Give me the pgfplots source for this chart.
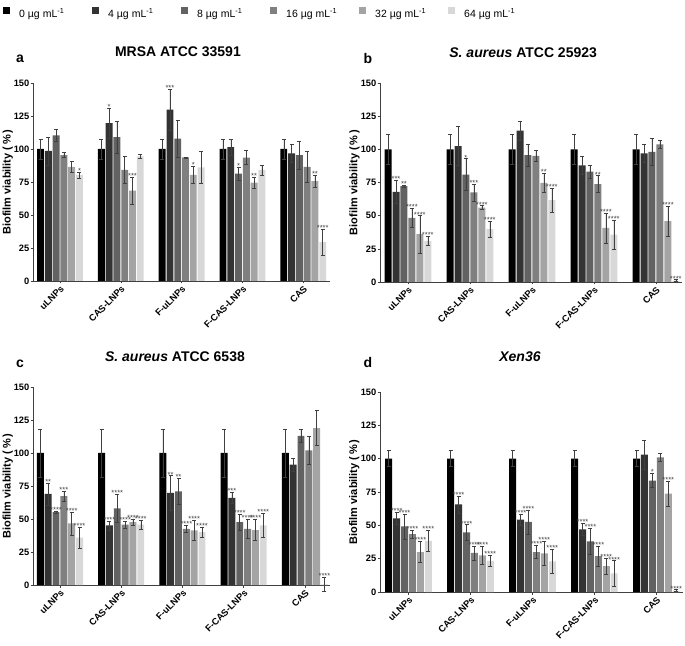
\documentclass[border=0pt]{standalone}
\usepackage{fontspec}
\setmainfont{Liberation Sans}
\usepackage{pgfplots}
\pgfplotsset{compat=1.18}
\usepackage{pgfplotstable}

\definecolor{c0}{HTML}{000000}
\definecolor{c4}{HTML}{333333}
\definecolor{c8}{HTML}{626262}
\definecolor{c16}{HTML}{808080}
\definecolor{c32}{HTML}{A4A4A4}
\definecolor{c64}{HTML}{D8D8D8}
\definecolor{axc}{HTML}{404040}

% ---------- data: value and error for 0,4,8,16,32,64 ug/mL ----------
\pgfplotstableread{
g v0 e0 v4 e4 v8 e8 v16 e16 v32 e32 v64 e64
0 100 7.4 98.5 10.5 110.4 4.6 95.4 2 86.5 4.3 80.4 2.3
1 100 7.4 119.6 11.4 108.9 12 84.2 10.5 68.4 10.4 94.4 1.5
2 100 7.4 129.8 15.8 107.9 14 93.6 0.5 80.4 6.6 86 12
3 100 7.4 101.5 6 81.4 5 93.4 5.3 74.6 4.3 84 4
4 100 7.4 96.7 7 95.4 10.5 86.5 11.5 75.6 4.6 29.5 10
}\dataA
\pgfplotstableread{
g v0 e0 v4 e4 v8 e8 v16 e16 v32 e32 v64 e64
0 100 11 68 9 72.3 0.8 48.4 7.5 36 14 31 3.5
1 100 11 102.5 14.6 80.9 12 67.5 6.3 56 1.5 39.8 6
2 100 11 114.1 7.3 95.7 8.3 95 4 74.8 7 61.7 9.3
3 100 11 87.9 7 83.1 5 73.8 6.3 40.8 11.3 35.8 10.8
4 100 11 97 6.8 98 10 103.8 3.3 45.8 11.3 1 0.8
}\dataB
\pgfplotstableread{
g v0 e0 v4 e4 v8 e8 v16 e16 v32 e32 v64 e64
0 100 18 69 8.3 55.2 1 67.3 3.8 46.6 8.8 35.8 8.3
1 100 18 45.1 3.3 58 10.5 45.8 2.5 47.6 2.3 45.8 3.3
2 100 18 69.8 13 71 10 42.6 2.5 41.3 7.5 40 4
3 100 18 66 4.3 47.6 5.8 42.6 7.5 41.6 8 45.1 9.2
4 100 18 91.2 5 113 5 102 10.6 118.9 13.4 0.5 5.5
}\dataC
\pgfplotstableread{
g v0 e0 v4 e4 v8 e8 v16 e16 v32 e32 v64 e64
0 100 6 55.3 4.5 49.2 9.3 43.4 3 30 8 38.4 8
1 100 6 65.7 6.3 44.7 5.8 29.3 5.3 27.5 7 23.3 4
2 100 6 54.3 4.3 52.5 9 30 5 29 9 23 9
3 100 6 47 4.5 38 10 27 7.5 19.5 6 14 9.5
4 100 6 103 10.6 83.6 5.3 101 3 73.7 9.3 1 0.8
}\dataD

% ---------- significance marks: group, series index, value, error, label ----------
\pgfplotstableread{
g k v e s
0 5 80.4 2.3 *
1 1 119.6 11.4 *
1 4 68.4 10.4 ***
2 1 129.8 15.8 ***
2 4 80.4 6.6 *
3 2 81.4 5 *
3 4 74.6 4.3 **
4 4 75.6 4.6 **
4 5 29.5 10 ****
}\starA
\pgfplotstableread{
g k v e s
0 1 68 9 ***
0 2 72.3 0.8 **
0 3 48.4 7.5 ****
0 4 36 14 ****
0 5 31 3.5 ****
1 2 80.9 12 *
1 3 67.5 6.3 ***
1 4 56 1.5 ****
1 5 39.8 6 ****
2 4 74.8 7 **
2 5 61.7 9.3 ****
3 3 73.8 6.3 **
3 4 40.8 11.3 ****
3 5 35.8 10.8 ****
4 4 45.8 11.3 ****
4 5 1 0.8 ****
}\starB
\pgfplotstableread{
g k v e s
0 1 69 8.3 **
0 2 55.2 1 ****
0 3 67.3 3.8 ***
0 4 46.6 8.8 ****
0 5 35.8 8.3 ****
1 1 45.1 3.3 ****
1 2 58 10.5 ****
1 3 45.8 2.5 ****
1 4 47.6 2.3 ****
1 5 45.8 3.3 ****
2 1 69.8 13 **
2 2 71 10 **
2 3 42.6 2.5 ****
2 4 41.3 7.5 ****
2 5 40 4 ****
3 1 66 4.3 ***
3 2 47.6 5.8 ****
3 3 42.6 7.5 ****
3 4 41.6 8 ****
3 5 45.1 9.2 ****
4 5 0.5 5.5 ****
}\starC
\pgfplotstableread{
g k v e s
0 1 55.3 4.5 ****
0 2 49.2 9.3 ****
0 3 43.4 3 ****
0 4 30 8 ****
0 5 38.4 8 ****
1 1 65.7 6.3 ****
1 2 44.7 5.8 ****
1 3 29.3 5.3 ****
1 4 27.5 7 ****
1 5 23.3 4 ****
2 1 54.3 4.3 ****
2 2 52.5 9 ****
2 3 30 5 ****
2 4 29 9 ****
2 5 23 9 ****
3 1 47 4.5 ****
3 2 38 10 ****
3 3 27 7.5 ****
3 4 19.5 6 ****
3 5 14 9.5 ****
4 2 83.6 5.3 *
4 4 73.7 9.3 ****
4 5 1 0.8 ****
}\starD

\pgfplotsset{
  bs/.style={ybar, bar width=0.113, bar shift=0pt, draw=none,
    legend image code/.code={\fill[##1] (0pt,0pt) rectangle (7pt,7pt);},
    error bars/y dir=both, error bars/y explicit,
    error bars/error bar style={axc, line width=0.5pt},
    error bars/error mark options={axc, line width=0.5pt, mark size=2pt, rotate=90}},
  s0/.style={bs, fill=c0},
  s1/.style={bs, fill=c4},
  s2/.style={bs, fill=c8},
  s3/.style={bs, fill=c16},
  s4/.style={bs, fill=c32},
  s5/.style={bs, fill=c64},
  sig/.style={ybar, bar width=0.113, bar shift=0pt, draw=none, fill=none,
    nodes near coords, point meta=explicit symbolic,
    every node near coord/.append style={font=\fontsize{7.5}{7}\selectfont,
      text=black!75, inner sep=0pt, anchor=south, yshift=-1.6pt}},
  pan/.style={scale only axis, anchor=south west, clip=false,
    ymin=0, ymax=150, ytick={0,25,...,150},
    xtick={0,1,2,3,4},
    xticklabels={uLNPs,CAS-LNPs,F-uLNPs,F-CAS-LNPs,CAS},
    axis lines*=left, tick align=outside, major tick length=2.5pt,
    axis line style={axc, line width=0.7pt},
    tick style={axc, line width=0.6pt},
    /pgf/number format/assume math mode=true,
    yticklabel style={font=\fontsize{9.3}{10}\selectfont\bfseries, inner sep=1pt},
    xticklabel style={font=\fontsize{9.3}{10}\selectfont\bfseries, rotate=45,
      anchor=north east, inner sep=1pt},
    ylabel={Biofilm viability (\,\%\,)},
    ylabel style={at={(axis description cs:-0.056,0.5)}, anchor=south,
      font=\fontsize{11}{12}\selectfont\bfseries},
    title style={anchor=base, font=\fontsize{14}{15}\selectfont\bfseries},
  },
}

\newcommand\bars[1]{%
  \addplot[s0] table[x expr=\thisrow{g}-0.32,  y=v0,  y error=e0]{#1};
  \addplot[s1] table[x expr=\thisrow{g}-0.192, y=v4,  y error=e4]{#1};
  \addplot[s2] table[x expr=\thisrow{g}-0.064, y=v8,  y error=e8]{#1};
  \addplot[s3] table[x expr=\thisrow{g}+0.064, y=v16, y error=e16]{#1};
  \addplot[s4] table[x expr=\thisrow{g}+0.192, y=v32, y error=e32]{#1};
  \addplot[s5] table[x expr=\thisrow{g}+0.32,  y=v64, y error=e64]{#1};
}
\newcommand\sigs[1]{%
  \addplot[sig] table[x expr=\thisrow{g}-0.32+0.128*\thisrow{k},
    y expr=\thisrow{v}+\thisrow{e}, meta=s]{#1};
}

\begin{document}
\begin{tikzpicture}
\useasboundingbox (0,0) rectangle (685pt,645pt);

% ---------------- a ----------------
\begin{axis}[pan, at={(33pt,364pt)}, width=297pt, height=198pt,
  xmin=-0.444, xmax=4.44,
  title={MRSA ATCC 33591},
  title style={at={(axis description cs:0.488,1.101)}},
  legend columns=6,
  legend style={at={(axis description cs:-0.101,1.354)}, anchor=west,
    draw=none, fill=none, inner sep=0pt, column sep=0pt,
    font=\fontsize{10.5}{11}\selectfont, nodes={inner sep=0pt}},
]
\bars{\dataA}
\legend{\makebox[82pt][l]{\hspace{9pt}0 µg mL\textsuperscript{-1}},
        \makebox[82pt][l]{\hspace{9pt}4 µg mL\textsuperscript{-1}},
        \makebox[82pt][l]{\hspace{9pt}8 µg mL\textsuperscript{-1}},
        \makebox[82pt][l]{\hspace{9pt}16 µg mL\textsuperscript{-1}},
        \makebox[82pt][l]{\hspace{9pt}32 µg mL\textsuperscript{-1}},
        \makebox[82pt][l]{\hspace{9pt}64 µg mL\textsuperscript{-1}}}
\sigs{\starA}
\node[anchor=base, font=\fontsize{14}{15}\selectfont\bfseries]
  at (axis description cs:-0.044,1.101) {a};
\end{axis}

% ---------------- b ----------------
\begin{axis}[pan, at={(380pt,363pt)}, width=302pt, height=199pt,
  xmin=-0.45, xmax=4.42,
  title={\textit{S. aureus} ATCC 25923},
  title style={at={(axis description cs:0.474,1.099)}},
]
\bars{\dataB}
\sigs{\starB}
\node[anchor=base, font=\fontsize{14}{15}\selectfont\bfseries]
  at (axis description cs:-0.04,1.099) {b};
\end{axis}

% ---------------- c ----------------
\begin{axis}[pan, at={(33pt,60pt)}, width=297pt, height=198pt,
  xmin=-0.44, xmax=4.41,
  title={\textit{S. aureus} ATCC 6538},
  title style={at={(axis description cs:0.478,1.096)}},
]
\bars{\dataC}
\sigs{\starC}
\node[anchor=base, font=\fontsize{14}{15}\selectfont\bfseries]
  at (axis description cs:-0.044,1.096) {c};
\end{axis}

% ---------------- d ----------------
\begin{axis}[pan, at={(380pt,53pt)}, width=303pt, height=200pt,
  xmin=-0.46, xmax=4.43,
  title={\textit{Xen36}},
  title style={at={(axis description cs:0.462,1.12)}},
]
\bars{\dataD}
\sigs{\starD}
\node[anchor=base, font=\fontsize{14}{15}\selectfont\bfseries]
  at (axis description cs:-0.04,1.12) {d};
\end{axis}
\end{tikzpicture}
\end{document}
